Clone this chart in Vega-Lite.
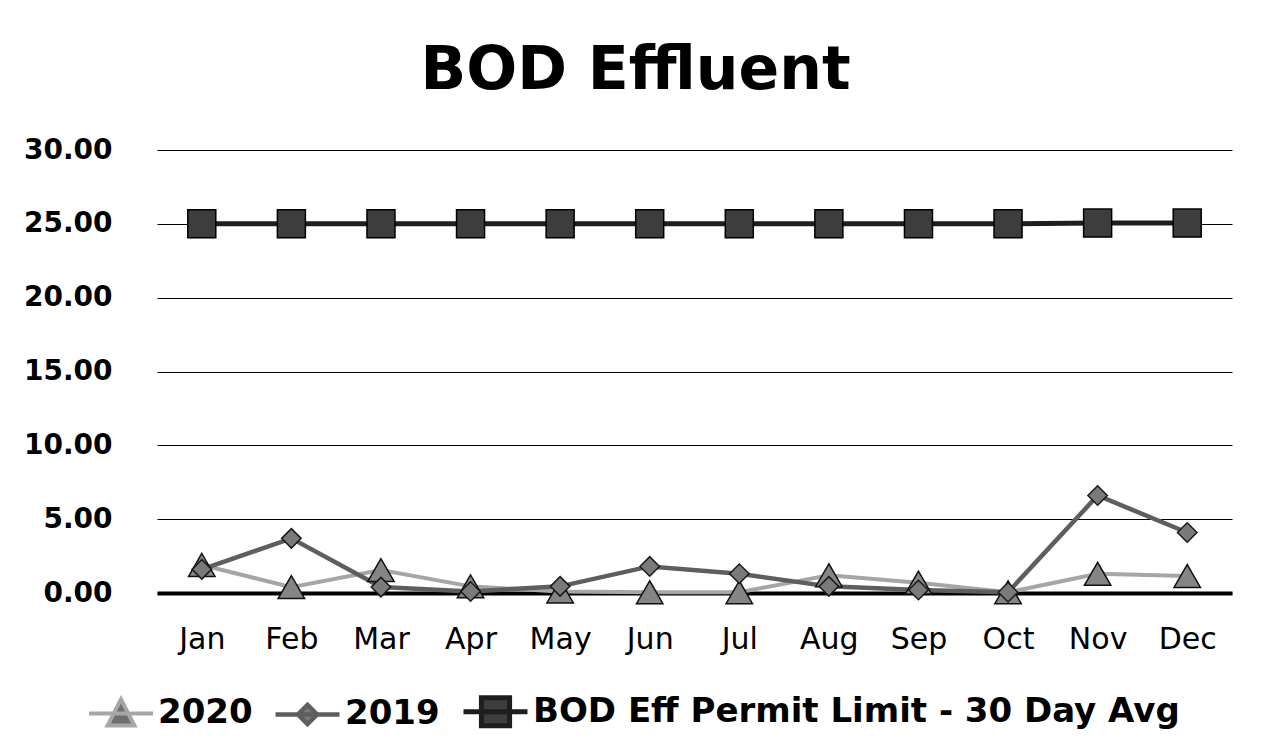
{
  "$schema": "https://vega.github.io/schema/vega-lite/v6.json",
  "width": 1075,
  "height": 443,
  "autosize": {"type": "none"},
  "padding": {"left": 157, "top": 150, "right": 30, "bottom": 160},
  "background": "white",
  "title": {
    "text": "BOD Effluent",
    "font": "DejaVu Sans",
    "fontWeight": "bold",
    "fontSize": 60,
    "color": "black",
    "anchor": "middle",
    "dx": -59,
    "offset": 34
  },
  "config": {
    "view": {"stroke": null}
  },
  "data": {
    "values": [
      {"month": "Jan", "series": "2020", "value": 1.9},
      {"month": "Feb", "series": "2020", "value": 0.4},
      {"month": "Mar", "series": "2020", "value": 1.55},
      {"month": "Apr", "series": "2020", "value": 0.45},
      {"month": "May", "series": "2020", "value": 0.1},
      {"month": "Jun", "series": "2020", "value": 0.05},
      {"month": "Jul", "series": "2020", "value": 0.05},
      {"month": "Aug", "series": "2020", "value": 1.2},
      {"month": "Sep", "series": "2020", "value": 0.7},
      {"month": "Oct", "series": "2020", "value": 0.05},
      {"month": "Nov", "series": "2020", "value": 1.3},
      {"month": "Dec", "series": "2020", "value": 1.15},
      {"month": "Jan", "series": "2019", "value": 1.6},
      {"month": "Feb", "series": "2019", "value": 3.7},
      {"month": "Mar", "series": "2019", "value": 0.4},
      {"month": "Apr", "series": "2019", "value": 0.1},
      {"month": "May", "series": "2019", "value": 0.45},
      {"month": "Jun", "series": "2019", "value": 1.8},
      {"month": "Jul", "series": "2019", "value": 1.3},
      {"month": "Aug", "series": "2019", "value": 0.45},
      {"month": "Sep", "series": "2019", "value": 0.2},
      {"month": "Oct", "series": "2019", "value": 0.05},
      {"month": "Nov", "series": "2019", "value": 6.6},
      {"month": "Dec", "series": "2019", "value": 4.1},
      {"month": "Jan", "series": "BOD Eff Permit Limit - 30 Day Avg", "value": 25},
      {"month": "Feb", "series": "BOD Eff Permit Limit - 30 Day Avg", "value": 25},
      {"month": "Mar", "series": "BOD Eff Permit Limit - 30 Day Avg", "value": 25},
      {"month": "Apr", "series": "BOD Eff Permit Limit - 30 Day Avg", "value": 25},
      {"month": "May", "series": "BOD Eff Permit Limit - 30 Day Avg", "value": 25},
      {"month": "Jun", "series": "BOD Eff Permit Limit - 30 Day Avg", "value": 25},
      {"month": "Jul", "series": "BOD Eff Permit Limit - 30 Day Avg", "value": 25},
      {"month": "Aug", "series": "BOD Eff Permit Limit - 30 Day Avg", "value": 25},
      {"month": "Sep", "series": "BOD Eff Permit Limit - 30 Day Avg", "value": 25},
      {"month": "Oct", "series": "BOD Eff Permit Limit - 30 Day Avg", "value": 25},
      {"month": "Nov", "series": "BOD Eff Permit Limit - 30 Day Avg", "value": 25.05},
      {"month": "Dec", "series": "BOD Eff Permit Limit - 30 Day Avg", "value": 25.05}
    ]
  },
  "encoding": {
    "x": {
      "field": "month",
      "type": "ordinal",
      "sort": ["Jan","Feb","Mar","Apr","May","Jun","Jul","Aug","Sep","Oct","Nov","Dec"],
      "scale": {"padding": 0.5},
      "axis": {
        "title": null,
        "labelAngle": 0,
        "labelFont": "DejaVu Sans",
        "labelFontSize": 30,
        "labelColor": "black",
        "labelPadding": 31,
        "ticks": false,
        "domain": true,
        "domainColor": "black",
        "domainWidth": 4,
        "grid": false
      }
    },
    "y": {
      "field": "value",
      "type": "quantitative",
      "scale": {"domain": [0, 30], "nice": false},
      "axis": {
        "title": null,
        "values": [0, 5, 10, 15, 20, 25, 30],
        "format": ".2f",
        "labelFont": "DejaVu Sans",
        "labelFontWeight": "bold",
        "labelFontSize": 28,
        "labelColor": "black",
        "labelPadding": 45,
        "ticks": false,
        "domain": false,
        "grid": true,
        "gridColor": "black",
        "gridWidth": 1.2
      }
    }
  },
  "layer": [
    {
      "mark": {"type": "line"},
      "encoding": {
        "color": {
          "field": "series",
          "type": "nominal",
          "scale": {
            "domain": ["2020", "2019", "BOD Eff Permit Limit - 30 Day Avg"],
            "range": ["#a6a6a6", "#5e5e5e", "#1e1e1e"]
          },
          "legend": {
            "title": null,
            "orient": "none",
            "legendX": -70,
            "legendY": 527,
            "direction": "horizontal",
            "padding": 0,
            "columnPadding": 13,
            "labelFont": "DejaVu Sans",
            "labelFontWeight": "bold",
            "labelFontSize": 34,
            "labelColor": "black",
            "labelOffset": 3,
            "labelLimit": 800,
            "symbolSize": 4096,
            "symbolStrokeWidth": 3,
            "encode": {
              "symbols": {
                "update": {
                  "shape": {"signal": "datum.value === '2020' ? 'M-1,0L1,0M0,-0.44L0.42,0.38L-0.42,0.38Z' : datum.value === '2019' ? 'M-1,0L1,0M0,-0.3L0.3,0L0,0.3L-0.3,0Z' : 'M-1,0L1,0M-0.44,-0.44L0.44,-0.44L0.44,0.44L-0.44,0.44Z'"},
                  "size": {"value": 4096},
                  "fill": {"signal": "datum.value === '2020' ? '#6e6e6e' : datum.value === '2019' ? '#7a7a7a' : '#3d3d3d'"},
                  "stroke": {"signal": "datum.value === '2020' ? '#9a9a9a' : datum.value === '2019' ? '#5e5e5e' : '#1e1e1e'"},
                  "strokeWidth": {"value": 3},
                  "opacity": {"value": 1}
                }
              }
            }
          }
        },
        "strokeWidth": {
          "field": "series",
          "type": "nominal",
          "scale": {
            "domain": ["2020", "2019", "BOD Eff Permit Limit - 30 Day Avg"],
            "range": [4, 5, 3]
          },
          "legend": null
        }
      }
    },
    {
      "transform": [{"filter": "datum.series === '2020'"}],
      "mark": {"type": "point", "shape": "triangle-up", "filled": true, "opacity": 1, "fill": "#858585", "stroke": "#111111", "strokeWidth": 1.5, "size": 700}
    },
    {
      "transform": [{"filter": "datum.series === '2019'"}],
      "mark": {"type": "point", "shape": "diamond", "filled": true, "opacity": 1, "fill": "#7a7a7a", "stroke": "#1a1a1a", "strokeWidth": 1.5, "size": 380}
    },
    {
      "transform": [{"filter": "datum.series === 'BOD Eff Permit Limit - 30 Day Avg'"}],
      "mark": {"type": "point", "shape": "square", "filled": true, "opacity": 1, "fill": "#3d3d3d", "stroke": "#000000", "strokeWidth": 1.5, "size": 784}
    }
  ]
}
